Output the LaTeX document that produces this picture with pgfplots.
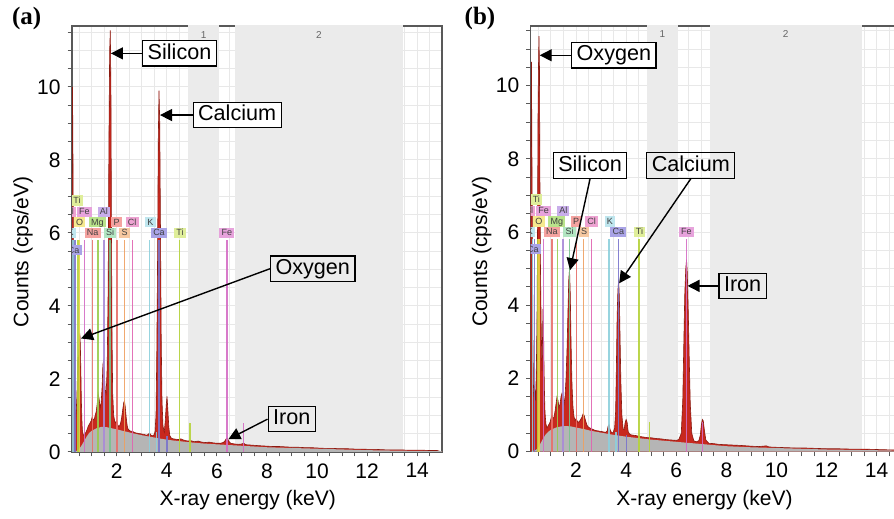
\documentclass[border=0pt]{standalone}
\usepackage{pgfplots}
\pgfplotsset{compat=1.18}
\usepackage{fontspec}
\setmainfont{Liberation Sans}
\newfontfamily\serifb{Liberation Serif}
\usetikzlibrary{arrows.meta}

\definecolor{regfill}{HTML}{EBEBEB}
\definecolor{cSpec}{HTML}{C8281E}
\definecolor{cSpecD}{HTML}{8A1A10}
\definecolor{cBg}{HTML}{B5B5B5}
\definecolor{cK}{HTML}{8CCFDC}
\definecolor{cCa}{HTML}{7A74CC}
\definecolor{cTi}{HTML}{B6D33A}
\definecolor{cO}{HTML}{ECD24A}
\definecolor{cFe}{HTML}{D46CC4}
\definecolor{cNa}{HTML}{E8706A}
\definecolor{cMg}{HTML}{98CC4C}
\definecolor{cAl}{HTML}{A98AD8}
\definecolor{cSi}{HTML}{78C48E}
\definecolor{cP}{HTML}{E8706A}
\definecolor{cS}{HTML}{EEA060}
\definecolor{cCl}{HTML}{E064B0}
\definecolor{fK}{HTML}{BFE6EE}
\definecolor{fCa}{HTML}{A9A3E6}
\definecolor{fTi}{HTML}{DFEE9A}
\definecolor{fO}{HTML}{F6E98E}
\definecolor{fFe}{HTML}{E7A3DC}
\definecolor{fNa}{HTML}{F5A3A0}
\definecolor{fMg}{HTML}{B9E38B}
\definecolor{fAl}{HTML}{C8AEEA}
\definecolor{fSi}{HTML}{B2E6C2}
\definecolor{fP}{HTML}{F5A3A0}
\definecolor{fS}{HTML}{F6C8A0}
\definecolor{fCl}{HTML}{EEA3D2}

\pgfplotsset{
  eds/.style={
    scale only axis, anchor=south west,
    ymin=0,
    axis line style={draw=black!65, line width=0.6pt},
    grid=both,
    major grid style={draw=black!9, line width=0.5pt},
    minor grid style={draw=black!9, line width=0.5pt},
    xtick={2,4,...,14},
    minor xtick={0.5,1,...,15},
    ytick={0,2,...,10},
    minor ytick={0,0.5,...,11.5},
    tick pos=left,
    tick align=outside,
    major tick length=2.2pt, minor tick length=2.2pt,
    tick style={draw=black!65, line width=0.5pt},
    tick label style={font=\fontsize{10.5}{12}\selectfont},
    /pgf/number format/assume math mode=true,
    label style={font=\fontsize{10.5}{12}\selectfont},
    xlabel={X-ray energy (keV)},
    ylabel={Counts (cps/eV)},
    xlabel style={at={([yshift=-24pt]axis description cs:0.475,0)}, anchor=center},
    ylabel style={at={([xshift=-24.5pt]axis description cs:0,0.47)}, anchor=center},
  },
  eline/.style={ycomb, no marks, line width=0.7pt, opacity=0.9, forget plot},
}
\tikzset{
  elab/.style={font=\fontsize{4.5}{4.5}\selectfont, text=black!75, inner xsep=1.1pt, inner ysep=0.8pt, text height=3.2pt, text depth=0.3pt},
  ann/.style={draw=black, line width=0.6pt, font=\fontsize{10.8}{13}\selectfont, text height=8pt, text depth=2.3pt, inner xsep=2.5pt, inner ysep=1.2pt},
  arr/.style={-{Triangle[length=6pt,width=6pt]}, line width=0.7pt},
  reglab/.style={font=\fontsize{5}{6}\selectfont, text=black!60},
}

\newcommand{\elements}{%
  \addplot[eline, draw=cK] coordinates {(0.26,5.8) (3.314,5.8) (3.59,0.55)};
  \addplot[eline, draw=cCa] coordinates {(0.341,5.8) (3.692,5.8) (4.013,0.45)};
  \addplot[eline, draw=cTi] coordinates {(0.452,5.8) (4.511,5.8) (4.932,0.8)};
  \addplot[eline, draw=cO] coordinates {(0.525,5.8)};
  \addplot[eline, draw=cFe] coordinates {(0.705,5.8) (6.404,5.8) (7.058,0.8)};
  \addplot[eline, draw=cNa] coordinates {(1.041,5.8)};
  \addplot[eline, draw=cMg] coordinates {(1.254,5.8)};
  \addplot[eline, draw=cAl] coordinates {(1.487,5.8)};
  \addplot[eline, draw=cSi] coordinates {(1.740,5.8)};
  \addplot[eline, draw=cP] coordinates {(2.013,5.8)};
  \addplot[eline, draw=cS] coordinates {(2.307,5.8)};
  \addplot[eline, draw=cCl] coordinates {(2.622,5.8)};
  \node[elab, fill=fTi] at (axis cs:0.415,6.89) {Ti};
  \node[elab, fill=fCl] at (axis cs:0.12,6.58) {Cl};
  \node[elab, fill=fFe] at (axis cs:0.71,6.58) {Fe};
  \node[elab, fill=fAl] at (axis cs:1.49,6.58) {Al};
  \node[elab, fill=fO] at (axis cs:0.52,6.29) {O};
  \node[elab, fill=fMg] at (axis cs:1.23,6.29) {Mg};
  \node[elab, fill=fP] at (axis cs:2.0,6.29) {P};
  \node[elab, fill=fCl] at (axis cs:2.62,6.29) {Cl};
  \node[elab, fill=fK] at (axis cs:3.35,6.29) {K};
  \node[elab, fill=fK] at (axis cs:0.16,6.01) {K};
  \node[elab, fill=fNa] at (axis cs:1.04,6.01) {Na};
  \node[elab, fill=fSi] at (axis cs:1.74,6.01) {Si};
  \node[elab, fill=fS] at (axis cs:2.32,6.01) {S};
  \node[elab, fill=fCa] at (axis cs:3.69,6.01) {Ca};
  \node[elab, fill=fTi] at (axis cs:4.53,6.01) {Ti};
  \node[elab, fill=fFe] at (axis cs:6.40,6.01) {Fe};
  \node[elab, fill=fCa] at (axis cs:0.28,5.53) {Ca};
}

\begin{document}
\begin{tikzpicture}
\path[use as bounding box] (0,0) rectangle (447pt,259.5pt);

% ---------------- panel (a)
\begin{axis}[eds, at={(36pt,33.5pt)}, width=185pt, height=213pt,
  xmin=0.216, xmax=14.99, ymax=11.67]
\addplot[fill=regfill, draw=none, forget plot] coordinates {(4.83,11.7) (6.10,11.7)} \closedcycle;
\addplot[fill=regfill, draw=none, forget plot] coordinates {(6.72,11.7) (13.42,11.7)} \closedcycle;
\node[reglab] at (axis cs:5.47,11.42) {1};
\node[reglab] at (axis cs:10.07,11.42) {2};
\addplot[fill=cSpec, draw=cSpecD, line width=0.3pt, forget plot] table {
x y
0.20 0
0.22 9.9
0.235 10.0
0.25 8.7
0.27 6.0
0.29 3.2
0.31 1.8
0.33 1.2
0.35 0.9
0.37 1.0
0.39 1.2
0.41 1.5
0.43 2.0
0.45 2.6
0.47 2.3
0.49 2.7
0.51 3.0
0.53 3.25
0.55 2.9
0.57 2.2
0.59 1.4
0.61 0.9
0.63 0.6
0.66 0.48
0.70 0.45
0.74 0.5
0.78 0.55
0.82 0.62
0.86 0.7
0.90 0.75
0.94 0.8
0.98 0.85
1.02 0.95
1.06 0.9
1.10 0.88
1.14 1.0
1.18 1.1
1.22 1.3
1.26 1.6
1.30 1.45
1.34 1.2
1.38 1.35
1.42 1.8
1.45 2.4
1.48 2.5
1.51 2.1
1.54 1.7
1.58 1.6
1.62 2.3
1.66 4.5
1.69 8.5
1.72 11.0
1.745 11.55
1.77 10.0
1.79 6.5
1.81 3.5
1.84 1.6
1.88 1.0
1.92 0.85
1.96 0.8
2.00 0.85
2.04 0.75
2.08 0.7
2.12 0.72
2.16 0.8
2.20 0.95
2.24 1.15
2.28 1.35
2.31 1.4
2.34 1.25
2.38 0.95
2.42 0.72
2.46 0.62
2.52 0.58
2.58 0.57
2.64 0.56
2.70 0.54
2.78 0.52
2.86 0.51
2.94 0.5
3.02 0.49
3.10 0.48
3.18 0.46
3.26 0.48
3.31 0.52
3.36 0.47
3.42 0.44
3.48 0.46
3.53 0.55
3.57 1.0
3.60 2.6
3.63 5.0
3.66 8.5
3.69 9.9
3.72 9.0
3.75 6.0
3.78 3.0
3.81 1.4
3.85 0.7
3.90 0.55
3.94 0.85
3.98 1.3
4.01 1.52
4.04 1.2
4.08 0.7
4.12 0.45
4.18 0.38
4.26 0.36
4.36 0.35
4.46 0.34
4.56 0.36
4.66 0.33
4.76 0.31
4.86 0.3
4.96 0.31
5.10 0.28
5.25 0.3
5.40 0.27
5.55 0.26
5.70 0.27
5.85 0.25
6.00 0.24
6.15 0.24
6.25 0.26
6.32 0.3
6.37 0.36
6.42 0.38
6.47 0.3
6.55 0.24
6.70 0.22
6.85 0.21
7.00 0.22
7.07 0.24
7.15 0.2
7.35 0.19
7.55 0.18
7.75 0.17
8.00 0.16
8.25 0.15
8.50 0.15
8.75 0.14
9.00 0.13
9.25 0.13
9.50 0.12
9.75 0.12
10.00 0.11
10.30 0.1
10.60 0.1
10.90 0.09
11.20 0.09
11.50 0.08
11.80 0.08
12.10 0.07
12.40 0.07
12.70 0.06
13.00 0.06
13.30 0.06
13.60 0.05
13.90 0.05
14.20 0.05
14.50 0.04
14.80 0.04
15.00 0
} \closedcycle;
\addplot[fill=cBg, draw=none, forget plot] table {
x y
0.20 0
0.40 0.03
0.50 0.08
0.60 0.18
0.70 0.3
0.80 0.42
0.90 0.52
1.00 0.58
1.20 0.65
1.40 0.69
1.60 0.68
1.80 0.65
2.00 0.62
2.30 0.57
2.60 0.52
3.00 0.46
3.40 0.41
3.80 0.36
4.20 0.32
4.60 0.29
5.00 0.26
5.50 0.23
6.00 0.21
6.50 0.19
7.00 0.17
7.50 0.15
8.00 0.13
9.00 0.11
10.00 0.09
11.00 0.07
12.00 0.05
13.00 0.04
14.00 0.03
15.00 0.02
} \closedcycle;
\elements
\node[ann, fill=white] (sil) at (axis cs:4.51,10.92) {Silicon};
\draw[arr] (sil.west) -- (axis cs:1.77,10.92);
\node[ann, fill=white] (cal) at (axis cs:6.81,9.23) {Calcium};
\draw[arr] (cal.west) -- (axis cs:3.73,9.23);
\node[ann] (oxy) at (axis cs:9.83,5.02) {Oxygen};
\draw[arr] (oxy.west) -- (axis cs:0.575,3.11);
\node[ann] (iro) at (axis cs:8.99,0.9) {Iron};
\draw[arr] (iro.west) -- (axis cs:6.46,0.35);
\end{axis}

% ---------------- panel (b)
\begin{axis}[eds, at={(265.35pt,33.65pt)}, width=183pt, height=212.85pt,
  xmin=0.19, xmax=14.8, ymax=11.63]
\addplot[fill=regfill, draw=none, forget plot] coordinates {(4.85,11.7) (6.06,11.7)} \closedcycle;
\addplot[fill=regfill, draw=none, forget plot] coordinates {(7.35,11.7) (13.40,11.7)} \closedcycle;
\node[reglab] at (axis cs:5.45,11.42) {1};
\node[reglab] at (axis cs:10.37,11.42) {2};
\addplot[fill=cSpec, draw=cSpecD, line width=0.3pt, forget plot] table {
x y
0.19 0
0.20 8.5
0.22 10.65
0.24 8.0
0.26 5.5
0.28 3.0
0.30 1.8
0.32 1.5
0.34 1.8
0.36 1.6
0.38 1.4
0.40 1.8
0.42 2.5
0.44 3.5
0.46 5.5
0.48 9.0
0.50 10.5
0.52 11.35
0.54 10.5
0.56 7.2
0.58 5.0
0.60 3.9
0.62 3.0
0.64 2.2
0.66 3.0
0.68 3.9
0.70 3.5
0.72 2.4
0.74 1.6
0.76 1.1
0.78 0.9
0.80 0.75
0.84 0.65
0.88 0.7
0.92 0.75
0.96 0.8
1.00 0.9
1.04 1.0
1.08 0.9
1.12 0.95
1.16 1.1
1.20 1.3
1.24 1.5
1.28 1.4
1.32 1.2
1.36 1.3
1.40 1.5
1.44 1.6
1.48 1.55
1.52 1.3
1.56 1.5
1.60 2.0
1.64 2.8
1.68 3.9
1.71 4.7
1.74 5.0
1.77 4.3
1.80 3.0
1.84 1.8
1.88 1.2
1.92 0.95
1.96 0.85
2.00 0.9
2.04 0.85
2.08 0.8
2.12 0.82
2.16 0.85
2.20 0.9
2.24 0.95
2.28 1.03
2.32 1.0
2.36 0.9
2.40 0.8
2.44 0.72
2.48 0.68
2.52 0.66
2.58 0.64
2.64 0.62
2.70 0.6
2.78 0.58
2.86 0.57
2.94 0.56
3.02 0.55
3.10 0.54
3.18 0.53
3.24 0.56
3.28 0.7
3.32 0.74
3.36 0.6
3.42 0.52
3.48 0.52
3.54 0.65
3.58 1.1
3.61 2.3
3.64 3.7
3.67 4.4
3.70 4.7
3.73 4.2
3.76 3.0
3.79 1.9
3.83 1.0
3.88 0.62
3.92 0.6
3.96 0.8
4.00 0.88
4.04 0.8
4.08 0.55
4.14 0.48
4.20 0.46
4.30 0.45
4.40 0.44
4.50 0.42
4.60 0.41
4.70 0.4
4.80 0.39
4.90 0.38
5.00 0.38
5.20 0.36
5.40 0.35
5.60 0.33
5.80 0.32
6.00 0.31
6.10 0.33
6.20 0.5
6.26 1.4
6.30 2.9
6.34 4.3
6.38 5.0
6.41 5.25
6.44 4.9
6.48 3.8
6.52 2.5
6.56 1.3
6.62 0.5
6.70 0.3
6.80 0.27
6.90 0.3
6.96 0.45
7.00 0.72
7.04 0.88
7.08 0.84
7.12 0.6
7.18 0.32
7.30 0.23
7.50 0.22
7.70 0.2
8.00 0.19
8.30 0.18
8.60 0.17
9.00 0.15
9.30 0.14
9.60 0.16
9.70 0.13
10.00 0.12
10.40 0.11
10.80 0.1
11.20 0.1
11.60 0.09
12.00 0.08
12.50 0.08
13.00 0.07
13.50 0.07
14.00 0.06
14.50 0.05
14.80 0.05
} \closedcycle;
\addplot[fill=cBg, draw=none, forget plot] table {
x y
0.19 0
0.40 0.05
0.50 0.12
0.60 0.25
0.70 0.38
0.80 0.48
0.90 0.55
1.00 0.6
1.20 0.66
1.40 0.69
1.60 0.70
1.80 0.69
2.00 0.66
2.30 0.62
2.60 0.57
3.00 0.52
3.50 0.46
4.00 0.41
4.50 0.37
5.00 0.33
5.50 0.3
6.00 0.27
6.50 0.24
7.00 0.21
7.50 0.18
8.00 0.15
9.00 0.12
10.00 0.1
11.00 0.08
12.00 0.06
13.00 0.05
14.00 0.04
14.80 0.03
} \closedcycle;
\elements
\node[ann, fill=white] (oxb) at (axis cs:3.51,10.83) {Oxygen};
\draw[arr] (oxb.west) -- (axis cs:0.55,10.83);
\node[ann, fill=white] (sib) at (axis cs:2.56,7.82) {Silicon};
\draw[arr] (sib.south) -- (axis cs:1.76,4.96);
\node[ann] (cab) at (axis cs:6.58,7.82) {Calcium};
\draw[arr] (cab.south) -- (axis cs:3.72,4.6);
\node[ann] (irb) at (axis cs:8.65,4.53) {Iron};
\draw[arr] (irb.west) -- (axis cs:6.45,4.53);
\end{axis}

\node[font=\serifb\bfseries\fontsize{12.5}{14}\selectfont] at (13.35pt,250.35pt) {(a)};
\node[font=\serifb\bfseries\fontsize{12.5}{14}\selectfont] at (240pt,250.35pt) {(b)};
\end{tikzpicture}
\end{document}
